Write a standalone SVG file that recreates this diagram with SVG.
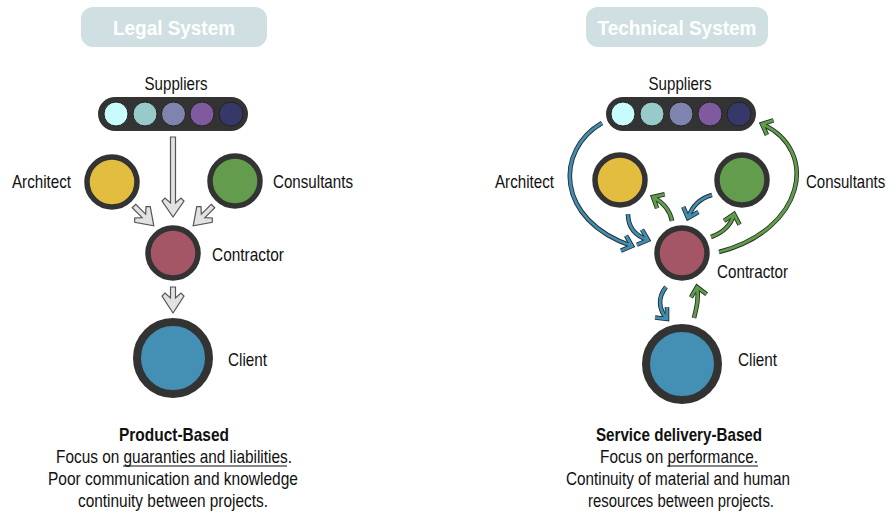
<svg xmlns="http://www.w3.org/2000/svg" width="890" height="515" viewBox="0 0 890 515">
<style>
text{font-family:"Liberation Sans",Arial,sans-serif;font-size:19px;fill:#111}
.title{font-size:21px;font-weight:bold;fill:#fff}
.tbox{fill:#cfdfe2}
.bold{font-weight:bold}
.node{stroke:#333;stroke-width:5.5}
.big{stroke:#333;stroke-width:8}
.bar{fill:#333}
.sup{stroke:#222;stroke-width:1}
.hollow{fill:#e2e2e2;stroke:#555;stroke-width:1.2;stroke-linejoin:miter}
.ol{fill:none;stroke:#2b2b2b;stroke-width:4.6;stroke-linecap:butt}
.bl{fill:none;stroke:#3d8fb6;stroke-width:2.8}
.gr{fill:none;stroke:#5e9e48;stroke-width:2.8}
.ul{stroke:#111;stroke-width:1.1}
</style>
<defs>
<marker id="mo" markerUnits="userSpaceOnUse" orient="auto" overflow="visible" refX="0" refY="0" markerWidth="1" markerHeight="1">
<path d="M-9,-8 L0,0 L-9,8" fill="none" stroke="#2b2b2b" stroke-width="4.6"/>
</marker>
<marker id="mb" markerUnits="userSpaceOnUse" orient="auto" overflow="visible" refX="0" refY="0" markerWidth="1" markerHeight="1">
<path d="M-9,-8 L0,0 L-9,8" fill="none" stroke="#3d8fb6" stroke-width="2.8"/>
</marker>
<marker id="mg" markerUnits="userSpaceOnUse" orient="auto" overflow="visible" refX="0" refY="0" markerWidth="1" markerHeight="1">
<path d="M-9,-8 L0,0 L-9,8" fill="none" stroke="#5e9e48" stroke-width="2.8"/>
</marker>
</defs>
<rect width="890" height="515" fill="#fff"/>

<!-- Legal System -->
<g id="legal-title">
<rect class="tbox" x="81" y="7" width="186" height="40" rx="12"/>
<text class="title" x="174" y="35" text-anchor="middle" textLength="122" lengthAdjust="spacingAndGlyphs">Legal System</text>
</g>
<g id="legal-suppliers">
<text x="176" y="90" text-anchor="middle" textLength="63" lengthAdjust="spacingAndGlyphs">Suppliers</text>
<rect class="bar" x="98" y="97" width="150" height="34" rx="17"/>
<circle class="sup" cx="116" cy="114" r="12" fill="#c8fcfc"/>
<circle class="sup" cx="145" cy="114" r="12" fill="#97cbca"/>
<circle class="sup" cx="173.5" cy="114" r="12" fill="#7f84ae"/>
<circle class="sup" cx="202" cy="114" r="12" fill="#7f5a9e"/>
<circle class="sup" cx="231" cy="114" r="12" fill="#37386a"/>
</g>
<g id="legal-architect">
<circle class="node" cx="112" cy="182" r="25" fill="#e3bd3f"/>
<text x="12" y="188" textLength="59" lengthAdjust="spacingAndGlyphs">Architect</text>
</g>
<g id="legal-consultants">
<circle class="node" cx="235" cy="181" r="25" fill="#629c4c"/>
<text x="273" y="188" textLength="80" lengthAdjust="spacingAndGlyphs">Consultants</text>
</g>
<g id="legal-contractor">
<circle class="node" cx="173" cy="253" r="25" fill="#a45666"/>
<text x="212" y="261" textLength="72" lengthAdjust="spacingAndGlyphs">Contractor</text>
</g>
<g id="legal-client">
<circle class="big" cx="173" cy="358" r="36" fill="#4390b4"/>
<text x="228" y="366" textLength="39" lengthAdjust="spacingAndGlyphs">Client</text>
</g>
<g id="legal-connectors">
<path class="hollow" transform="translate(173,137)" d="M-2.5,0 L2.5,0 L2.5,66 L8,61 L11,64 L0,80 L-11,64 L-8,61 L-2.5,66 Z"/>
<path class="hollow" transform="translate(134,206) rotate(-45)" d="M-2.5,0 L2.5,0 L2.5,14 L8,9 L11,12 L0,28 L-11,12 L-8,9 L-2.5,14 Z"/>
<path class="hollow" transform="translate(213,206) rotate(45)" d="M-2.5,0 L2.5,0 L2.5,14 L8,9 L11,12 L0,28 L-11,12 L-8,9 L-2.5,14 Z"/>
<path class="hollow" transform="translate(173,287)" d="M-2.5,0 L2.5,0 L2.5,11 L8,6 L11,9 L0,26 L-11,9 L-8,6 L-2.5,11 Z"/>
</g>
<g id="legal-caption" text-anchor="middle">
<text class="bold" x="174" y="441" textLength="110" lengthAdjust="spacingAndGlyphs">Product-Based</text>
<text x="174" y="463" textLength="236" lengthAdjust="spacingAndGlyphs">Focus on guaranties and liabilities.</text>
<line class="ul" x1="123" y1="466" x2="287" y2="466"/>
<text x="173" y="485" textLength="250" lengthAdjust="spacingAndGlyphs">Poor communication and knowledge</text>
<text x="173" y="507" textLength="190" lengthAdjust="spacingAndGlyphs">continuity between projects.</text>
</g>

<!-- Technical System -->
<g id="tech-title">
<rect class="tbox" x="586" y="7" width="182" height="40" rx="12"/>
<text class="title" x="677" y="35" text-anchor="middle" textLength="159" lengthAdjust="spacingAndGlyphs">Technical System</text>
</g>
<g id="tech-suppliers">
<text x="680" y="90" text-anchor="middle" textLength="63" lengthAdjust="spacingAndGlyphs">Suppliers</text>
<rect class="bar" x="606" y="97" width="150" height="34" rx="17"/>
<circle class="sup" cx="623" cy="114" r="12" fill="#c8fcfc"/>
<circle class="sup" cx="652" cy="114" r="12" fill="#97cbca"/>
<circle class="sup" cx="681" cy="114" r="12" fill="#7f84ae"/>
<circle class="sup" cx="710" cy="114" r="12" fill="#7f5a9e"/>
<circle class="sup" cx="739" cy="114" r="12" fill="#37386a"/>
</g>
<g id="tech-architect">
<circle class="node" cx="620" cy="180" r="25" fill="#e3bd3f"/>
<text x="495" y="188" textLength="59" lengthAdjust="spacingAndGlyphs">Architect</text>
</g>
<g id="tech-consultants">
<circle class="node" cx="742" cy="180" r="25" fill="#629c4c"/>
<text transform="translate(806,188) scale(0.79,1)" x="0" y="0">Consultants</text>
</g>
<g id="tech-contractor">
<circle class="node" cx="682" cy="253" r="25" fill="#a45666"/>
<text x="717" y="278" textLength="71" lengthAdjust="spacingAndGlyphs">Contractor</text>
</g>
<g id="tech-client">
<circle class="big" cx="682" cy="364" r="36" fill="#4390b4"/>
<text x="738" y="366" textLength="39" lengthAdjust="spacingAndGlyphs">Client</text>
</g>
<g id="tech-connectors">
<g>
<path class="ol" marker-end="url(#mo)" d="M602,123 C555,150 555,220 632,246"/>
<path class="ol" marker-end="url(#mo)" d="M628,214 C628,228 636,236 648,240"/>
<path class="ol" marker-end="url(#mo)" d="M672,221 C670,210 664,203 653,197"/>
<path class="ol" marker-end="url(#mo)" d="M712,195 C701,198 692,206 688,218"/>
<path class="ol" marker-end="url(#mo)" d="M711,237 C722,233 731,226 734,214"/>
<path class="ol" marker-end="url(#mo)" d="M719,252 C805,230 820,150 762,124"/>
<path class="ol" marker-end="url(#mo)" d="M666,287 C657,298 659,310 667,319"/>
<path class="ol" marker-end="url(#mo)" d="M694,318 C697,306 699,297 697,287"/>
</g>
<path class="bl" marker-end="url(#mb)" d="M602,123 C555,150 555,220 632,246"/>
<path class="bl" marker-end="url(#mb)" d="M628,214 C628,228 636,236 648,240"/>
<path class="gr" marker-end="url(#mg)" d="M672,221 C670,210 664,203 653,197"/>
<path class="bl" marker-end="url(#mb)" d="M712,195 C701,198 692,206 688,218"/>
<path class="gr" marker-end="url(#mg)" d="M711,237 C722,233 731,226 734,214"/>
<path class="gr" marker-end="url(#mg)" d="M719,252 C805,230 820,150 762,124"/>
<path class="bl" marker-end="url(#mb)" d="M666,287 C657,298 659,310 667,319"/>
<path class="gr" marker-end="url(#mg)" d="M694,318 C697,306 699,297 697,287"/>
</g>
<g id="tech-caption" text-anchor="middle">
<text class="bold" x="679" y="441" textLength="166" lengthAdjust="spacingAndGlyphs">Service delivery-Based</text>
<text x="679" y="463" textLength="158" lengthAdjust="spacingAndGlyphs">Focus on performance.</text>
<line class="ul" x1="667" y1="466" x2="758" y2="466"/>
<text x="678" y="485" textLength="224" lengthAdjust="spacingAndGlyphs">Continuity of material and human</text>
<text x="681" y="507" textLength="186" lengthAdjust="spacingAndGlyphs">resources between projects.</text>
</g>
</svg>
